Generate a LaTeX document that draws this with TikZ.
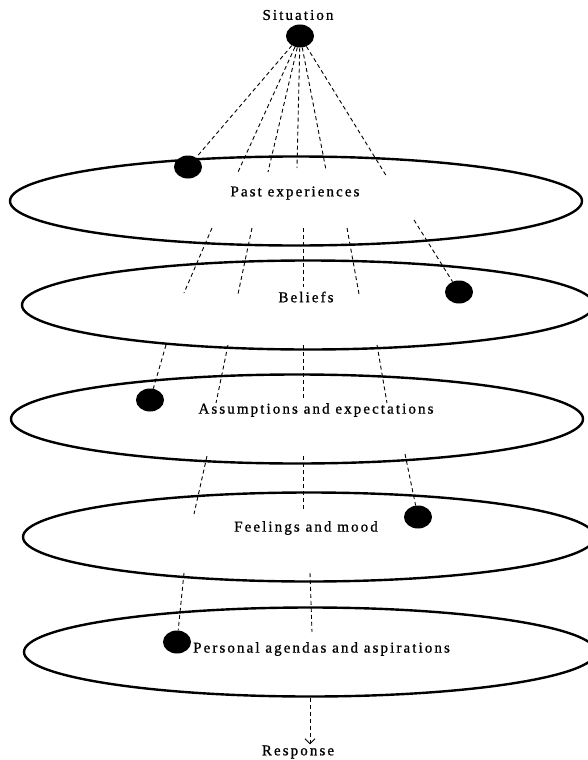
\documentclass[tikz,border=0pt]{standalone}
\usepackage{fontspec}
\setmainfont{Liberation Serif}
\newfontfamily\spacedfont[LetterSpace=14, FakeBold=1]{Liberation Serif}
\usepackage{tikz}
\usetikzlibrary{shapes.geometric, arrows.meta, positioning}

\begin{document}
\begin{tikzpicture}[
    x=1pt, y=-1pt,
    >={Straight Barb[length=5pt, width=10pt]},
    levelring/.style={draw, ellipse, line width=2.4pt, minimum width=572pt, minimum height=89pt, inner sep=0pt},
    blob/.style={ellipse, fill=black, minimum width=28pt, minimum height=23pt, inner sep=0pt},
    leveltext/.style={font=\spacedfont\fontsize{15}{17}\selectfont, inner sep=1pt},
    link/.style={dash pattern=on 4pt off 3pt, line width=0.9pt},
    flow/.style={->, link}
]
    \useasboundingbox (0,0) rectangle (588,760);

    % the five layers
    \node[levelring] (PastRing) at (296,201) {};
    \node[levelring] (BelRing)  at (308,305) {};
    \node[levelring] (AssRing)  at (297,419) {};
    \node[levelring] (FeelRing) at (309,537) {};
    \node[levelring] (PersRing) at (310,652) {};

    \node[leveltext] (Sit)  at (298,15)  {Situation};
    \node[leveltext] (Past) at (295,193) {Past experiences};
    \node[leveltext] (Bel)  at (306,297) {Beliefs};
    \node[leveltext] (Ass)  at (316,410) {Assumptions and expectations};
    \node[leveltext] (Feel) at (306,528) {Feelings and mood};
    \node[leveltext, anchor=west] (Pers) at (192,649) {Personal agendas and aspirations};
    \node[leveltext] (Resp) at (298,752) {Response};

    \node[blob] (SitDot)  at (300,36)  {};
    \node[blob] (PastDot) at (188,167) {};
    \node[blob] (BelDot)  at (459,292) {};
    \node[blob] (AssDot)  at (150,400) {};
    \node[blob] (FeelDot) at (418,517) {};
    \node[blob] (PersDot) at (177,642) {};

    % fan from the situation
    \draw[link] (SitDot) -- (PastDot);
    \foreach \fx/\fy [count=\i] in {238/172, 268/172, 297/168, 326/170, 387/177}{
        \coordinate (Fan\i) at (\fx,\fy);
        \draw[link] (SitDot) -- (Fan\i);
    }

    % traces between the layers
    \foreach \xa/\ya/\xb/\yb [count=\i] in {212/228/184/293, 252/228/238/294, 303/228/303/287, 347/228/359/294,
                                           228/345/216/403, 303/345/303/399, 377/345/387/403,
                                           207/456/194/514, 303/456/303/511,
                                           310/573/312/632}{
        \coordinate (TrA\i) at (\xa,\ya);
        \coordinate (TrB\i) at (\xb,\yb);
        \draw[link] (TrA\i) -- (TrB\i);
    }

    \coordinate (ToBel)  at (414,220);
    \coordinate (ToAss)  at (166,345);
    \coordinate (ToFeel) at (405,454);
    \coordinate (ToPers) at (184,573);
    \draw[link] (ToBel) -- (BelDot);
    \draw[link] (ToAss) -- (AssDot);
    \draw[link] (ToFeel) -- (FeelDot);
    \draw[link] (ToPers) -- (PersDot);

    \draw[flow] (PersRing.south) -- (PersRing.south |- Resp.north);

\end{tikzpicture}
\end{document}
